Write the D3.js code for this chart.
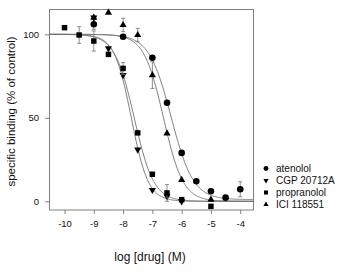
<!DOCTYPE html>
<html>
<head>
<meta charset="utf-8">
<script src="https://cdn.jsdelivr.net/npm/d3@7"></script>
<style>
  body { margin: 0; background: #fff; }
  text { font-family: "Liberation Sans", Arial, sans-serif; fill: #111; }
</style>
</head>
<body>
<script>
var width = 350;
var height = 275;

// data
var xTicks = [-10, -9, -8, -7, -6, -5, -4];
var xTickLabels = ["-10", "-9", "-8", "-7", "-6", "-5", "-4"];
var yTicks = [0, 50, 100];
var yTickLabels = ["0", "50", "100"];

var seriesNames = ["atenolol", "CGP 20712A", "propranolol", "ICI 118551"];

var atenololX = [-9, -8, -7, -6.5, -6, -5.5, -5, -4.5, -4];
var atenololY = [106, 98.6, 86, 59, 29, 12, 6, 2.2, 7.2];
var atenololErr = [3, 0, 0, 0, 0, 0, 0, 0, 4.5];

var cgpX = [-9, -8.5, -8, -7.5, -7, -6.5, -6];
var cgpY = [110, 91.6, 75.6, 31, 6.8, 3, 0];
var cgpErr = [0, 0, 0, 0, 0, 0, 0];

var propranololX = [-10, -9.5, -9, -8.5, -8, -7.5, -7, -6.5, -6, -5];
var propranololY = [104, 99.6, 96, 88, 79.6, 41, 16.2, 5, 1, -3];
var propranololErr = [0, 5, 6, 0, 3.5, 0, 0, 5, 0, 0];

var iciX = [-9, -8.5, -8, -7.5, -7, -6.5, -6, -5];
var iciY = [110, 113, 105.6, 99.6, 75.6, 40.7, 12.8, 1];
var iciErr = [0, 0, 4, 4, 8, 0, 0, 0];

// fitted curves: [top, bottom, logIC50, hill]
var atenololFit = [100, 1, -6.36, 1.15];
var cgpFit = [100, 0, -7.72, 1.5];
var propranololFit = [100, 0, -7.62, 1.3];
var iciFit = [100, 0, -6.62, 1.3];

var svg = d3.select("body").append("svg")
    .attr("width", width)
    .attr("height", height);

var xScale = d3.scaleLinear()
    .domain([-10.53, -3.53])
    .range([49, 254]);
var yScale = d3.scaleLinear()
    .domain([-5.2, 115])
    .range([210, 9.3]);

var grey = "#808080";

// frame
svg.append("rect")
    .attr("x", 49.5)
    .attr("y", 9.5)
    .attr("width", 204)
    .attr("height", 200.5)
    .attr("fill", "none")
    .attr("stroke", grey)
    .attr("stroke-width", 1);

// -- axes --
var xAxis = d3.axisBottom(xScale)
    .tickValues(xTicks)
    .tickSize(4)
    .tickPadding(6)
    .tickFormat(function(d, i) { return xTickLabels[i]; });
var yAxis = d3.axisLeft(yScale)
    .tickValues(yTicks)
    .tickSize(4)
    .tickPadding(6)
    .tickFormat(function(d, i) { return yTickLabels[i]; });

var gx = svg.append("g")
    .attr("transform", "translate(0,210)")
    .call(xAxis);
var gy = svg.append("g")
    .attr("transform", "translate(49,0)")
    .call(yAxis);
[gx, gy].forEach(function(g) {
  g.select(".domain").remove();
  g.selectAll(".tick line").attr("stroke", grey);
  g.selectAll(".tick text")
    .attr("font-size", 9.5)
    .attr("font-family", "Liberation Sans, Arial, sans-serif")
    .attr("fill", "#111");
});

svg.append("text")
    .attr("x", 150)
    .attr("y", 261)
    .attr("text-anchor", "middle")
    .attr("font-size", 12)
    .text("log [drug] (M)");

svg.append("text")
    .attr("transform", "translate(15,111.5) rotate(-90)")
    .attr("text-anchor", "middle")
    .attr("font-size", 11.5)
    .text("specific binding (% of control)");

// -- curves --
var series = [
  { name: seriesNames[0], x: atenololX, y: atenololY, err: atenololErr, fit: atenololFit, sym: d3.symbolCircle, size: 34, rot: 0 },
  { name: seriesNames[1], x: cgpX, y: cgpY, err: cgpErr, fit: cgpFit, sym: d3.symbolTriangle, size: 22, rot: 180 },
  { name: seriesNames[2], x: propranololX, y: propranololY, err: propranololErr, fit: propranololFit, sym: d3.symbolSquare, size: 30, rot: 0 },
  { name: seriesNames[3], x: iciX, y: iciY, err: iciErr, fit: iciFit, sym: d3.symbolTriangle, size: 22, rot: 0 }
];

function logistic(p, x) {
  return p[1] + (p[0] - p[1]) / (1 + Math.pow(10, p[3] * (x - p[2])));
}

var line = d3.line()
    .x(function(d) { return xScale(d[0]); })
    .y(function(d) { return yScale(d[1]); });

var xs = d3.range(-10.53, -3.53, 0.02);
svg.selectAll(".fit")
    .data(series)
    .enter()
    .append("path")
    .attr("class", "fit")
    .attr("d", function(s) {
      return line(xs.map(function(x) { return [x, logistic(s.fit, x)]; }));
    })
    .attr("fill", "none")
    .attr("stroke", "#6e6e6e")
    .attr("stroke-width", 0.9);

// -- error bars and markers --
series.forEach(function(s) {
  var pts = s.x.map(function(x, i) { return { x: x, y: s.y[i], e: s.err[i] }; });
  var eb = svg.append("g").selectAll("g")
      .data(pts.filter(function(d) { return d.e > 0; }))
      .enter()
      .append("g")
      .attr("stroke", grey)
      .attr("stroke-width", 0.9);
  eb.append("line")
      .attr("x1", function(d) { return xScale(d.x); })
      .attr("x2", function(d) { return xScale(d.x); })
      .attr("y1", function(d) { return yScale(d.y - d.e); })
      .attr("y2", function(d) { return yScale(d.y + d.e); });
  [-1, 1].forEach(function(sgn) {
    eb.append("line")
        .attr("x1", function(d) { return xScale(d.x) - 2; })
        .attr("x2", function(d) { return xScale(d.x) + 2; })
        .attr("y1", function(d) { return yScale(d.y + sgn * d.e); })
        .attr("y2", function(d) { return yScale(d.y + sgn * d.e); });
  });

  svg.append("g").selectAll("path")
      .data(pts)
      .enter()
      .append("path")
      .attr("d", d3.symbol().type(s.sym).size(s.size))
      .attr("transform", function(d) {
        return "translate(" + xScale(d.x) + "," + yScale(d.y) + ") rotate(" + s.rot + ")";
      })
      .attr("fill", "#000");
});

// -- legend --
var legend = svg.selectAll(".legend")
    .data(series)
    .enter()
    .append("g")
    .attr("class", "legend")
    .attr("transform", function(d, i) { return "translate(266," + (168.5 + i * 12) + ")"; });
legend.append("path")
    .attr("d", function(d) { return d3.symbol().type(d.sym).size(d.size * 0.55)(); })
    .attr("transform", function(d) { return "rotate(" + d.rot + ")"; })
    .attr("fill", "#000");
legend.append("text")
    .attr("x", 10)
    .attr("y", 3.5)
    .attr("font-size", 10)
    .text(function(d) { return d.name; });
</script>
</body>
</html>
